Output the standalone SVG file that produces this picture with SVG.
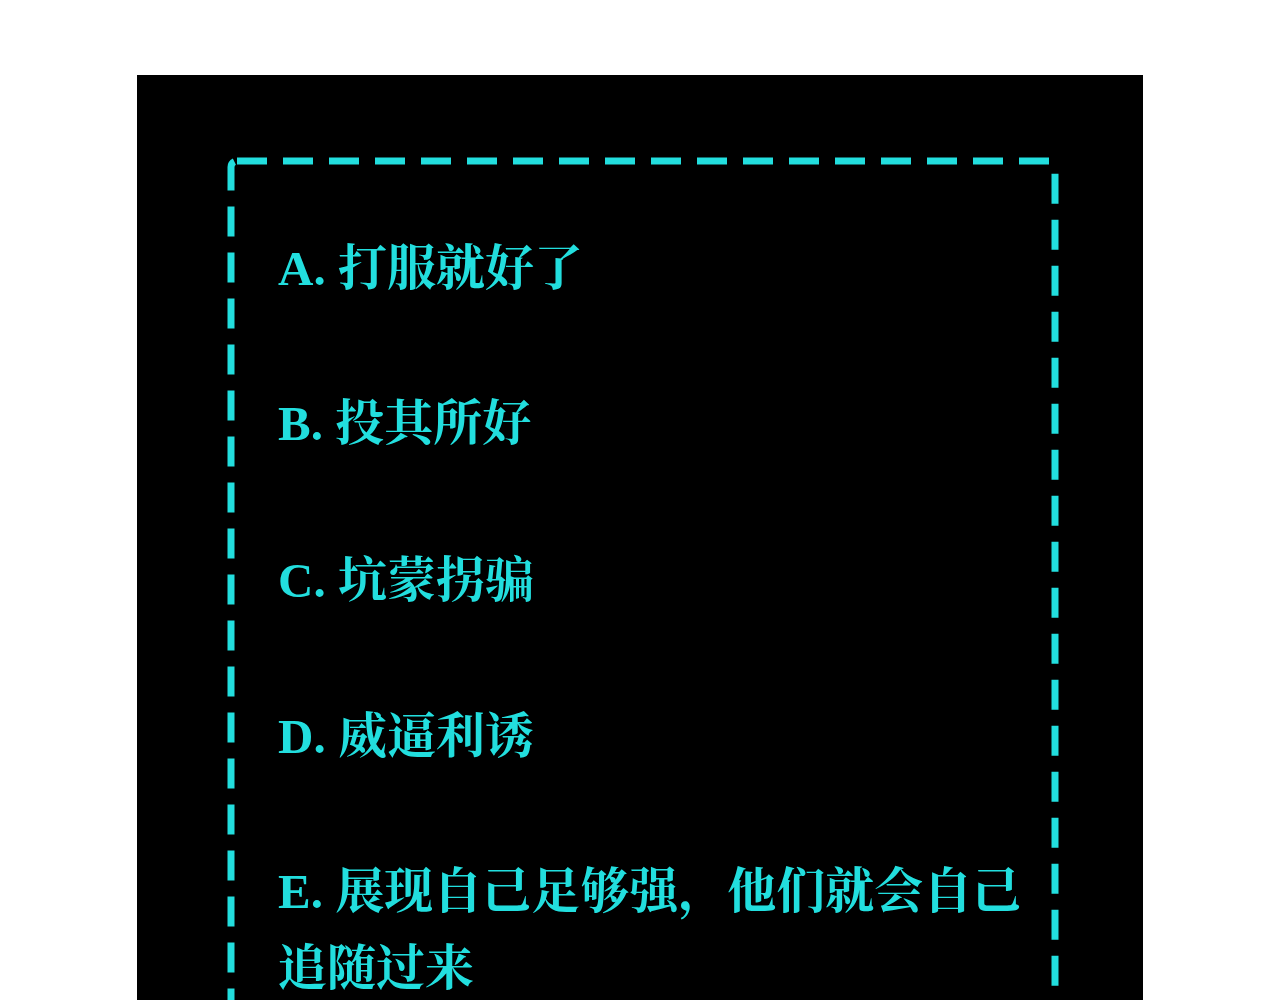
<svg xmlns="http://www.w3.org/2000/svg" width="1280" height="1000" viewBox="0 0 1280 1000">
<style>
.t{font-family:"Liberation Serif","Noto Serif CJK SC","Noto Sans CJK SC",serif;font-weight:bold;font-size:49px;fill:#22dede}
</style>
<rect width="1280" height="1000" fill="#fff"/>
<rect x="137" y="75" width="1006" height="925" fill="#000"/>
<rect x="231" y="161" width="824" height="900" rx="6" fill="none" stroke="#22dede" stroke-width="7" stroke-dasharray="30 16"/>
<text class="t" x="278" y="285">A. 打服就好了</text>
<text class="t" x="278" y="440">B. 投其所好</text>
<text class="t" x="278" y="597">C. 坑蒙拐骗</text>
<text class="t" x="278" y="753">D. 威逼利诱</text>
<text class="t" x="278" y="908">E. 展现自己足够强，他们就会自己</text>
<text class="t" x="278" y="985">追随过来</text>
</svg>
